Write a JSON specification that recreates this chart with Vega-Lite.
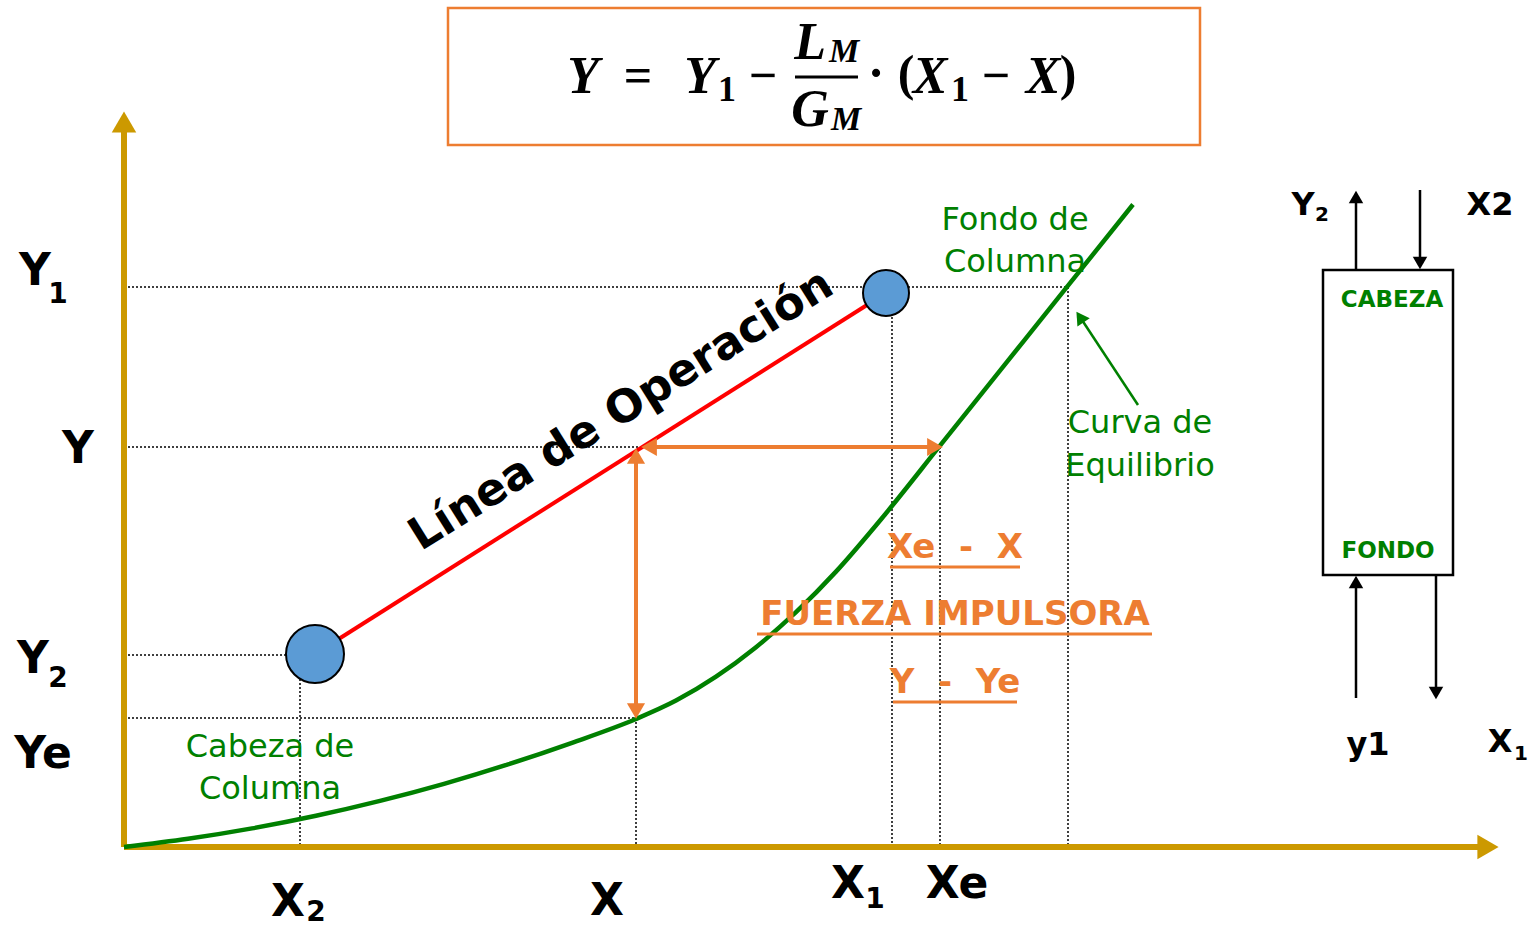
{
  "$schema": "https://vega.github.io/schema/vega-lite/v6.json",
  "width": 1528,
  "height": 927,
  "autosize": {"type": "fit", "contains": "padding"},
  "padding": 0,
  "background": "white",
  "config": {"view": {"stroke": null}},
  "datasets": {
    "axes": [{"x": 0, "y": 0, "x2": 0, "y2": 718}, {"x": 0, "y": 0, "x2": 1358, "y2": 0}],
    "axisHeads": [{"x": 0, "y": 725, "dir": "up"}, {"x": 1364, "y": 0, "dir": "right"}],
    "guides": [
      {"x": 0, "y": 560, "x2": 944, "y2": 560},
      {"x": 0, "y": 400, "x2": 516, "y2": 400},
      {"x": 0, "y": 192, "x2": 176, "y2": 192},
      {"x": 0, "y": 129, "x2": 512, "y2": 129},
      {"x": 176, "y": 192, "x2": 176, "y2": 0},
      {"x": 512, "y": 129, "x2": 512, "y2": 0},
      {"x": 768, "y": 554, "x2": 768, "y2": 0},
      {"x": 816, "y": 400, "x2": 816, "y2": 0},
      {"x": 944, "y": 560, "x2": 944, "y2": 0}
    ],
    "operating": [{"x": 191, "y": 193, "x2": 762, "y2": 554}],
    "points": [{"x": 191, "y": 193, "stream": "Y2"}, {"x": 762, "y": 554, "stream": "Y1"}],
    "equilibrium": [
      {"x": 0, "y": 0}, {"x": 64, "y": 8.2}, {"x": 128, "y": 18.6}, {"x": 192, "y": 31.2},
      {"x": 256, "y": 46.1}, {"x": 320, "y": 63.2}, {"x": 384, "y": 82.6}, {"x": 448, "y": 104.2},
      {"x": 512, "y": 128}, {"x": 552, "y": 146.4}, {"x": 592, "y": 170.3}, {"x": 632, "y": 199.8},
      {"x": 672, "y": 234.8}, {"x": 712, "y": 275.4}, {"x": 760, "y": 331.3}, {"x": 816, "y": 401.3},
      {"x": 880, "y": 481.3}, {"x": 944, "y": 561.3}, {"x": 1009, "y": 642.5}
    ],
    "force": [{"x": 524, "y": 400, "x2": 812, "y2": 400}, {"x": 512, "y": 392, "x2": 512, "y2": 135}],
    "forceHeads": [
      {"x": 525, "y": 400, "dir": "left"}, {"x": 811, "y": 400, "dir": "right"},
      {"x": 512, "y": 391, "dir": "up"}, {"x": 512, "y": 136, "dir": "down"}
    ],
    "flows": [
      {"x": 1232, "y": 577, "x2": 1232, "y2": 650},
      {"x": 1296, "y": 657, "x2": 1296, "y2": 584},
      {"x": 1232, "y": 149, "x2": 1232, "y2": 265},
      {"x": 1312, "y": 272, "x2": 1312, "y2": 154}
    ],
    "flowHeads": [
      {"x": 1232, "y": 650, "dir": "up"}, {"x": 1296, "y": 584, "dir": "down"},
      {"x": 1232, "y": 265, "dir": "up"}, {"x": 1312, "y": 154, "dir": "down"}
    ],
    "column": [{"x": 1199, "y": 577, "x2": 1329, "y2": 272}],
    "pointer": [{"x": 1014, "y": 442, "x2": 956, "y2": 530}],
    "pointerHead": [{"x": 956, "y": 530}],
    "formulaBox": [{"x": 324, "y": 839, "x2": 1076, "y2": 702}],
    "formulaBar": [{"x": 671, "y": 770, "x2": 734, "y2": 770}],
    "formulaMain": [
      {"x": 459, "y": 770, "t": "Y"}, {"x": 576, "y": 770, "t": "Y"},
      {"x": 686, "y": 804, "t": "L"}, {"x": 686, "y": 737, "t": "G"},
      {"x": 806, "y": 770, "t": "X"}, {"x": 919, "y": 770, "t": "X"}
    ],
    "formulaOps": [
      {"x": 514, "y": 770, "t": "="}, {"x": 639, "y": 770, "t": "−"},
      {"x": 752, "y": 772, "t": "·"}, {"x": 782, "y": 772, "t": "("},
      {"x": 872, "y": 770, "t": "−"}, {"x": 944, "y": 772, "t": ")"}
    ],
    "formulaSub": [{"x": 720, "y": 795, "t": "M"}, {"x": 722, "y": 727, "t": "M"}],
    "formulaNum": [{"x": 603, "y": 757, "t": "1"}, {"x": 836, "y": 757, "t": "1"}],
    "axisLabels": [
      {"x": -89, "y": 575, "t": "Y"}, {"x": -46, "y": 397, "t": "Y"},
      {"x": -91, "y": 187, "t": "Y"}, {"x": -81, "y": 92, "t": "Ye"},
      {"x": 164, "y": -56, "t": "X"}, {"x": 483, "y": -55, "t": "X"},
      {"x": 724, "y": -38, "t": "X"}, {"x": 833, "y": -38, "t": "Xe"}
    ],
    "axisSubs": [
      {"x": -66, "y": 552, "t": "1"}, {"x": -66, "y": 168, "t": "2"},
      {"x": 192, "y": -66, "t": "2"}, {"x": 751, "y": -53, "t": "1"}
    ],
    "columnLabels": [
      {"x": 1179, "y": 642, "t": "Y"}, {"x": 1366, "y": 642, "t": "X2"},
      {"x": 1244, "y": 102, "t": "y1"}, {"x": 1376, "y": 105, "t": "X"}
    ],
    "columnSubs": [{"x": 1198, "y": 632, "t": "2"}, {"x": 1397, "y": 93, "t": "1"}],
    "greenLabels": [
      {"x": 891, "y": 627, "t": "Fondo de"}, {"x": 891, "y": 585, "t": "Columna"},
      {"x": 1016, "y": 424, "t": "Curva de"}, {"x": 1016, "y": 381, "t": "Equilibrio"},
      {"x": 146, "y": 100, "t": "Cabeza de"}, {"x": 146, "y": 58, "t": "Columna"}
    ],
    "greenCaps": [{"x": 1268, "y": 547, "t": "CABEZA"}, {"x": 1264, "y": 296, "t": "FONDO"}],
    "orangeLabels": [
      {"x": 831, "y": 299, "t": "Xe\u00a0\u00a0-\u00a0\u00a0X"},
      {"x": 831, "y": 232, "t": "FUERZA IMPULSORA"},
      {"x": 831, "y": 164, "t": "Y\u00a0\u00a0-\u00a0\u00a0Ye"}
    ],
    "underlines": [
      {"x": 766, "y": 280, "x2": 896, "y2": 280},
      {"x": 633, "y": 213, "x2": 1028, "y2": 213},
      {"x": 769, "y": 145, "x2": 893, "y2": 145}
    ],
    "title": [{"x": 497, "y": 437, "t": "Línea de Operación"}]
  },
  "encoding": {
    "x": {"field": "x", "type": "quantitative", "scale": {"domain": [-124, 1404], "nice": false, "zero": false}, "axis": null},
    "y": {"field": "y", "type": "quantitative", "scale": {"domain": [-80, 847], "nice": false, "zero": false}, "axis": null}
  },
  "layer": [
    {"data": {"name": "guides"}, "mark": {"type": "rule", "color": "black", "strokeWidth": 1.5, "strokeDash": [2, 2]},
     "encoding": {"x2": {"field": "x2"}, "y2": {"field": "y2"}}},
    {"data": {"name": "axes"}, "mark": {"type": "rule", "color": "#CC9900", "strokeWidth": 6},
     "encoding": {"x2": {"field": "x2"}, "y2": {"field": "y2"}}},
    {"data": {"name": "axisHeads"}, "mark": {"type": "point", "filled": true, "color": "#CC9900", "opacity": 1, "size": 600},
     "encoding": {"shape": {"field": "dir", "type": "nominal", "scale": {"domain": ["up", "down", "left", "right"], "range": ["triangle-up", "triangle-down", "triangle-left", "triangle-right"]}, "legend": null}}},
    {"data": {"name": "equilibrium"}, "mark": {"type": "line", "color": "#008000", "strokeWidth": 4.5, "interpolate": "monotone"}, "encoding": {}},
    {"data": {"name": "operating"}, "mark": {"type": "rule", "color": "#FF0000", "strokeWidth": 4},
     "encoding": {"x2": {"field": "x2"}, "y2": {"field": "y2"}}},
    {"data": {"name": "force"}, "mark": {"type": "rule", "color": "#ED7D31", "strokeWidth": 4},
     "encoding": {"x2": {"field": "x2"}, "y2": {"field": "y2"}}},
    {"data": {"name": "forceHeads"}, "mark": {"type": "point", "filled": true, "color": "#ED7D31", "opacity": 1, "size": 330},
     "encoding": {"shape": {"field": "dir", "type": "nominal", "scale": {"domain": ["up", "down", "left", "right"], "range": ["triangle-up", "triangle-down", "triangle-left", "triangle-right"]}, "legend": null}}},
    {"data": {"name": "points"}, "mark": {"type": "point", "shape": "circle", "filled": true, "fill": "#5B9BD5", "stroke": "black", "strokeWidth": 2, "opacity": 1},
     "encoding": {"size": {"field": "stream", "type": "ordinal", "scale": {"domain": ["Y2", "Y1"], "range": [3364, 2116]}, "legend": null}}},
    {"data": {"name": "pointer"}, "mark": {"type": "rule", "color": "#008000", "strokeWidth": 2.5},
     "encoding": {"x2": {"field": "x2"}, "y2": {"field": "y2"}}},
    {"data": {"name": "pointerHead"}, "mark": {"type": "point", "shape": "triangle-up", "filled": true, "color": "#008000", "opacity": 1, "size": 220, "angle": -34}},
    {"data": {"name": "column"}, "mark": {"type": "rect", "fill": "white", "stroke": "black", "strokeWidth": 2.5},
     "encoding": {"x2": {"field": "x2"}, "y2": {"field": "y2"}}},
    {"data": {"name": "flows"}, "mark": {"type": "rule", "color": "black", "strokeWidth": 2.5},
     "encoding": {"x2": {"field": "x2"}, "y2": {"field": "y2"}}},
    {"data": {"name": "flowHeads"}, "mark": {"type": "point", "filled": true, "color": "black", "opacity": 1, "size": 210},
     "encoding": {"shape": {"field": "dir", "type": "nominal", "scale": {"domain": ["up", "down", "left", "right"], "range": ["triangle-up", "triangle-down", "triangle-left", "triangle-right"]}, "legend": null}}},
    {"data": {"name": "formulaBox"}, "mark": {"type": "rect", "fill": "white", "stroke": "#ED7D31", "strokeWidth": 2.5},
     "encoding": {"x2": {"field": "x2"}, "y2": {"field": "y2"}}},
    {"data": {"name": "formulaBar"}, "mark": {"type": "rule", "color": "black", "strokeWidth": 3},
     "encoding": {"x2": {"field": "x2"}, "y2": {"field": "y2"}}},
    {"data": {"name": "formulaMain"}, "mark": {"type": "text", "font": "Liberation Serif", "fontSize": 52, "fontWeight": "bold", "fontStyle": "italic", "color": "black", "baseline": "middle", "align": "center"},
     "encoding": {"text": {"field": "t"}}},
    {"data": {"name": "formulaOps"}, "mark": {"type": "text", "font": "Liberation Serif", "fontSize": 50, "fontWeight": "bold", "color": "black", "baseline": "middle", "align": "center"},
     "encoding": {"text": {"field": "t"}}},
    {"data": {"name": "formulaSub"}, "mark": {"type": "text", "font": "Liberation Serif", "fontSize": 34, "fontWeight": "bold", "fontStyle": "italic", "color": "black", "baseline": "middle", "align": "center"},
     "encoding": {"text": {"field": "t"}}},
    {"data": {"name": "formulaNum"}, "mark": {"type": "text", "font": "Liberation Serif", "fontSize": 36, "fontWeight": "bold", "color": "black", "baseline": "middle", "align": "center"},
     "encoding": {"text": {"field": "t"}}},
    {"data": {"name": "axisLabels"}, "mark": {"type": "text", "font": "DejaVu Sans", "fontSize": 44, "fontWeight": "bold", "color": "black", "baseline": "middle", "align": "center"},
     "encoding": {"text": {"field": "t"}}},
    {"data": {"name": "axisSubs"}, "mark": {"type": "text", "font": "DejaVu Sans", "fontSize": 28, "fontWeight": "bold", "color": "black", "baseline": "middle", "align": "center"},
     "encoding": {"text": {"field": "t"}}},
    {"data": {"name": "columnLabels"}, "mark": {"type": "text", "font": "DejaVu Sans", "fontSize": 32, "fontWeight": "bold", "color": "black", "baseline": "middle", "align": "center"},
     "encoding": {"text": {"field": "t"}}},
    {"data": {"name": "columnSubs"}, "mark": {"type": "text", "font": "DejaVu Sans", "fontSize": 20, "fontWeight": "bold", "color": "black", "baseline": "middle", "align": "center"},
     "encoding": {"text": {"field": "t"}}},
    {"data": {"name": "greenLabels"}, "mark": {"type": "text", "font": "DejaVu Sans", "fontSize": 32, "color": "#008000", "baseline": "middle", "align": "center"},
     "encoding": {"text": {"field": "t"}}},
    {"data": {"name": "greenCaps"}, "mark": {"type": "text", "font": "DejaVu Sans", "fontSize": 23, "fontWeight": "bold", "color": "#008000", "baseline": "middle", "align": "center"},
     "encoding": {"text": {"field": "t"}}},
    {"data": {"name": "orangeLabels"}, "mark": {"type": "text", "font": "DejaVu Sans", "fontSize": 34, "fontWeight": "bold", "color": "#ED7D31", "baseline": "middle", "align": "center"},
     "encoding": {"text": {"field": "t"}}},
    {"data": {"name": "underlines"}, "mark": {"type": "rule", "color": "#ED7D31", "strokeWidth": 3},
     "encoding": {"x2": {"field": "x2"}, "y2": {"field": "y2"}}},
    {"data": {"name": "title"}, "mark": {"type": "text", "font": "DejaVu Sans", "fontSize": 45, "fontWeight": "bold", "color": "black", "baseline": "middle", "align": "center", "angle": -32},
     "encoding": {"text": {"field": "t"}}}
  ]
}
